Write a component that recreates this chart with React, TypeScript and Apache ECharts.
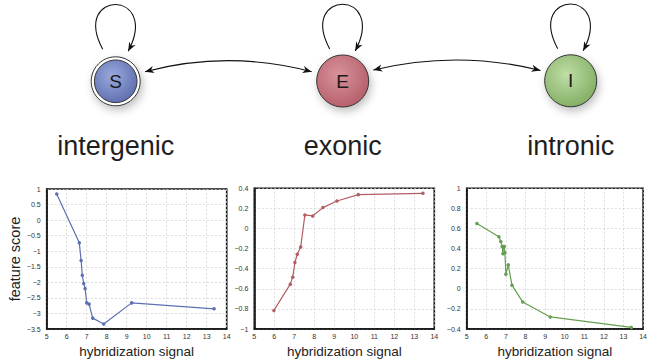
import React, { useEffect, useRef } from "react";
import * as echarts from "echarts";

// ---- data ----
const stateNames = ["intergenic", "exonic", "intronic"];
const stateLetters = ["S", "E", "I"];

const intergenicX = [5.5, 6.63, 6.72, 6.78, 6.85, 6.92, 7.0, 7.12, 7.3, 7.85, 9.25, 13.37];
const intergenicY = [0.84, -0.73, -1.3, -1.77, -2.04, -2.2, -2.66, -2.7, -3.15, -3.34, -2.66, -2.85];

const exonicX = [5.98, 6.8, 6.92, 7.03, 7.15, 7.32, 7.53, 7.92, 8.43, 9.13, 10.2, 13.43];
const exonicY = [-0.815, -0.554, -0.484, -0.338, -0.256, -0.183, 0.135, 0.125, 0.208, 0.274, 0.337, 0.35];

const intronicX = [5.52, 6.64, 6.74, 6.81, 6.85, 6.88, 6.92, 6.95, 7.0, 7.12, 7.31, 7.86, 9.26, 13.4];
const intronicY = [0.649, 0.517, 0.47, 0.42, 0.35, 0.42, 0.42, 0.36, 0.146, 0.238, 0.036, -0.132, -0.28, -0.384];

const yRanges = [
  { min: -3.5, max: 1, interval: 0.5 },
  { min: -1, max: 0.4, interval: 0.2 },
  { min: -0.4, max: 1, interval: 0.2 },
];
const xRange = { min: 5, max: 14, interval: 1 };

const FONT = "'Liberation Sans', Arial, Helvetica, sans-serif";

function arrowHead(tipX: number, tipY: number, fromX: number, fromY: number, len = 9, half = 3.6) {
  const dx = tipX - fromX;
  const dy = tipY - fromY;
  const d = Math.sqrt(dx * dx + dy * dy) || 1;
  const ux = dx / d;
  const uy = dy / d;
  const bx = tipX - ux * len;
  const by = tipY - uy * len;
  const nx = -uy;
  const ny = ux;
  return {
    type: "polygon",
    shape: {
      points: [
        [tipX, tipY],
        [bx + nx * half, by + ny * half],
        [tipX - ux * len * 0.7, tipY - uy * len * 0.7],
        [bx - nx * half, by - ny * half],
      ],
    },
    style: { fill: "#111" },
    z: 10,
  };
}

export default function App() {
  const ref = useRef<HTMLDivElement>(null);

  useEffect(() => {
    if (!ref.current) return;
    const chart = echarts.init(ref.current, undefined, { renderer: "svg" });

    const grids = [
      { left: 46.7, top: 189, width: 180, height: 141 },
      { left: 254.3, top: 188.3, width: 180, height: 141 },
      { left: 466.7, top: 188.3, width: 179.3, height: 141 },
    ];
    const colors = ["#5d6fb3", "#b25e63", "#64a04f"];
    const seriesData = [
      intergenicX.map((x, i) => [x, intergenicY[i]]),
      exonicX.map((x, i) => [x, exonicY[i]]),
      intronicX.map((x, i) => [x, intronicY[i]]),
    ];

    const fmt = (v: number) => {
      const r = Math.round(v * 100) / 100;
      return String(r).replace("-", "\u2212");
    };

    const xAxes = grids.map((_, i) => ({
      type: "value",
      gridIndex: i,
      min: xRange.min,
      max: xRange.max,
      interval: xRange.interval,
      name: "hybridization signal",
      nameLocation: "middle",
      nameGap: 15,
      nameTextStyle: { fontSize: 13.5, color: "#222", fontFamily: FONT },
      axisLine: { show: true, onZero: false, lineStyle: { color: "#111", width: 1.6 } },
      axisTick: { show: false },
      axisLabel: { fontSize: 7, color: "#333", margin: 4, fontFamily: FONT, formatter: fmt },
      splitLine: { show: true, lineStyle: { color: "#cfcfcf", type: [2, 2], width: 0.7 } },
    }));

    const yAxes = grids.map((_, i) => ({
      type: "value",
      gridIndex: i,
      min: yRanges[i].min,
      max: yRanges[i].max,
      interval: yRanges[i].interval,
      name: i === 0 ? "feature score" : "",
      nameLocation: "middle",
      nameRotate: 90,
      nameGap: 23,
      nameTextStyle: { fontSize: 14.5, color: "#222", fontFamily: FONT },
      axisLine: { show: true, onZero: false, lineStyle: { color: "#111", width: 1.6 } },
      axisTick: { show: false },
      axisLabel: { fontSize: 7, color: "#333", margin: 6, fontFamily: FONT, formatter: fmt },
      splitLine: { show: true, lineStyle: { color: "#cfcfcf", type: [2, 2], width: 0.7 } },
    }));

    const series = seriesData.map((d, i) => ({
      type: "line",
      xAxisIndex: i,
      yAxisIndex: i,
      data: d,
      symbol: "circle",
      symbolSize: 3.5,
      showSymbol: true,
      lineStyle: { color: colors[i], width: 1.2 },
      itemStyle: { color: colors[i] },
    }));

    // ---- state diagram ----
    const centers = [
      [115.7, 81.3],
      [342.7, 81],
      [570.7, 80.8],
    ];
    const grads = [
      ["#9aaade", "#5a6aab"],
      ["#d8939a", "#b35b67"],
      ["#bfdea6", "#7eaa5e"],
    ];
    const graphic: any[] = [];
    centers.forEach(([cx, cy], i) => {
      const fill = new echarts.graphic.RadialGradient(0.42, 0.38, 0.7, [
        { offset: 0, color: grads[i][0] },
        { offset: 1, color: grads[i][1] },
      ]);
      if (i === 0) {
        graphic.push({
          type: "circle",
          shape: { cx, cy, r: 24.5 },
          style: {
            fill: "#fff",
            stroke: "#333",
            lineWidth: 1,
            shadowBlur: 8,
            shadowOffsetX: 2,
            shadowOffsetY: 4,
            shadowColor: "rgba(0,0,0,0.25)",
          },
        });
        graphic.push({
          type: "circle",
          shape: { cx, cy, r: 21.3 },
          style: { fill, stroke: "#333", lineWidth: 1 },
        });
      } else {
        graphic.push({
          type: "circle",
          shape: { cx, cy, r: 26 },
          style: {
            fill,
            stroke: "#333",
            lineWidth: 1,
            shadowBlur: 8,
            shadowOffsetX: 2,
            shadowOffsetY: 4,
            shadowColor: "rgba(0,0,0,0.25)",
          },
        });
      }
      graphic.push({
        type: "text",
        x: cx,
        y: cy,
        style: {
          text: stateLetters[i],
          fontSize: 19,
          fontFamily: FONT,
          fill: "#1a1a1a",
          align: "center",
          verticalAlign: "middle",
        },
      });
      graphic.push({
        type: "text",
        x: cx,
        y: 145.5,
        style: {
          text: stateNames[i],
          fontSize: 27,
          fontFamily: FONT,
          fill: "#1e1e1e",
          align: "center",
          verticalAlign: "middle",
        },
      });
      // self loop
      const sx = cx - 13, sy = cy - 32;
      const ex = cx + 12.5, ey = cy - 30;
      const c1x = cx - 45, c1y = cy - 92;
      const c2x = cx + 45, c2y = cy - 92;
      graphic.push({
        type: "bezierCurve",
        shape: { x1: sx, y1: sy, cpx1: c1x, cpy1: c1y, cpx2: c2x, cpy2: c2y, x2: ex, y2: ey },
        style: { stroke: "#111", lineWidth: 1.1, fill: null },
      });
      graphic.push(arrowHead(ex, ey, c2x, c2y));
    });

    // bidirectional arrows
    const links = [
      { x1: 145, y1: 71.7, x2: 311.7, y2: 71.7, cy: 57 },
      { x1: 373.3, y1: 70, x2: 540.5, y2: 70.5, cy: 56.5 },
    ];
    links.forEach((l) => {
      const c1x = l.x1 + (l.x2 - l.x1) / 3;
      const c2x = l.x1 + (2 * (l.x2 - l.x1)) / 3;
      graphic.push({
        type: "bezierCurve",
        shape: { x1: l.x1, y1: l.y1, cpx1: c1x, cpy1: l.cy, cpx2: c2x, cpy2: l.cy, x2: l.x2, y2: l.y2 },
        style: { stroke: "#111", lineWidth: 1.1, fill: null },
      });
      graphic.push(arrowHead(l.x1, l.y1, c1x, l.cy));
      graphic.push(arrowHead(l.x2, l.y2, c2x, l.cy));
    });

    chart.setOption({
      animation: false,
      backgroundColor: "#fff",
      textStyle: { fontFamily: FONT },
      grid: grids.map((g) => ({
        ...g,
        show: true,
        borderColor: "#111",
        borderWidth: 1.6,
        backgroundColor: "transparent",
        containLabel: false,
      })),
      xAxis: xAxes,
      yAxis: yAxes,
      series,
      graphic,
    } as any);

    return () => chart.dispose();
  }, []);

  return (
    <div
      ref={ref}
      style={{ position: "absolute", left: 0, top: 0, width: 650, height: 359, background: "#fff" }}
    />
  );
}
